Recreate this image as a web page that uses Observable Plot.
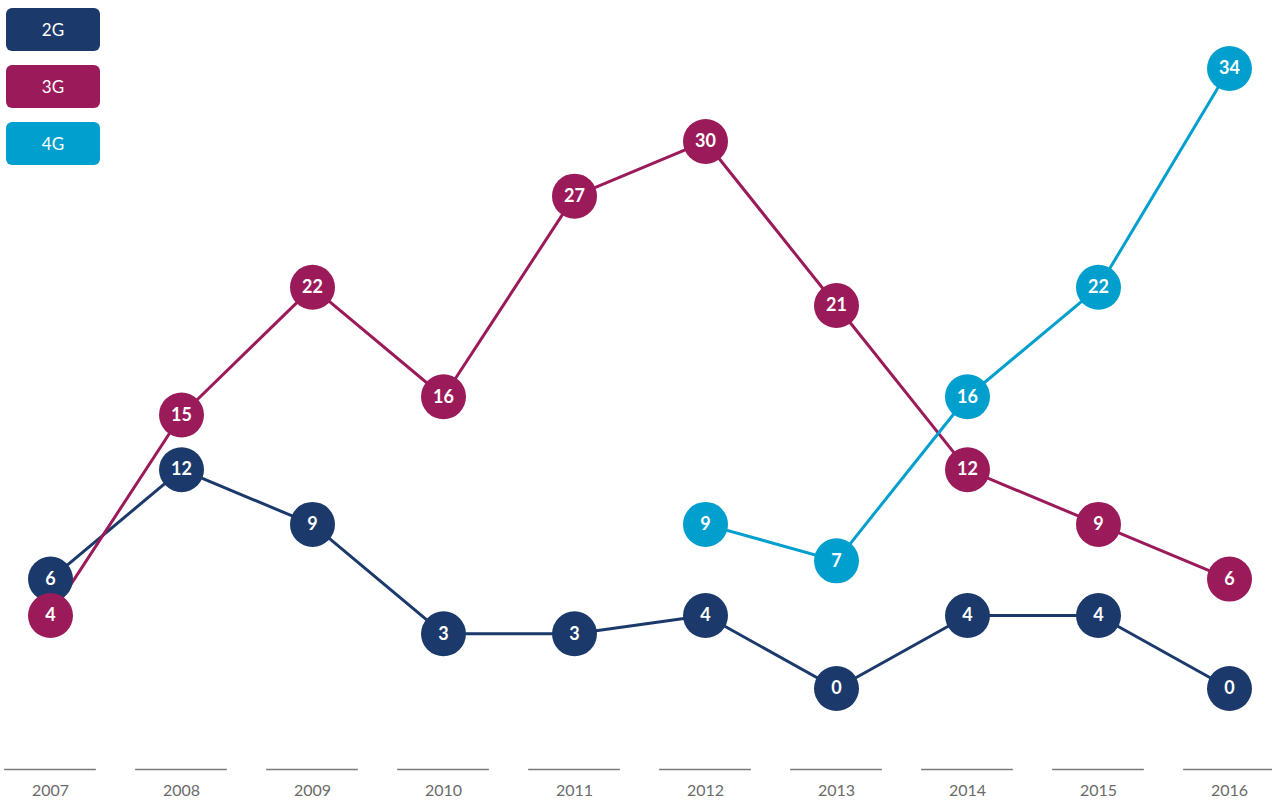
<!DOCTYPE html>
<html>
<head>
<meta charset="utf-8">
<script src="https://cdn.jsdelivr.net/npm/d3@7"></script>
<script src="https://cdn.jsdelivr.net/npm/@observablehq/plot@0.6"></script>
<style>
  html, body { margin: 0; padding: 0; background: #fff; }
  #wrap { position: relative; width: 1272px; height: 802px; }
  #legend { position: absolute; left: 6px; top: 8px; }
  .key { width: 94px; height: 43px; border-radius: 6px; color: #fff;
         font: 400 17px "Lato", "Open Sans", sans-serif; display: flex;
         align-items: center; justify-content: center; margin-bottom: 14px; }
</style>
</head>
<body>
<div id="wrap">
  <div id="chart"></div>
  <div id="legend"></div>
</div>
<script>
const years = [2007, 2008, 2009, 2010, 2011, 2012, 2013, 2014, 2015, 2016];
const series = ["2G", "3G", "4G"];
const colors = ["#1b3a6b", "#9b1b5a", "#009fcd"];
const values2G = [6, 12, 9, 3, 3, 4, 0, 4, 4, 0];
const values3G = [4, 15, 22, 16, 27, 30, 21, 12, 9, 6];
const values4G = [null, null, null, null, null, 9, 7, 16, 22, 34];

const rows = [];
[values2G, values3G, values4G].forEach((vals, i) => {
  vals.forEach((v, j) => { if (v != null) rows.push({series: series[i], year: years[j], value: v}); });
});

const colorScale = {domain: series, range: colors};

const chart = Plot.plot({
  width: 1272,
  height: 802,
  marginLeft: 50,
  marginRight: 43,
  marginTop: 68,
  marginBottom: 114,
  x: {domain: [2007, 2016], axis: null},
  y: {domain: [0, 34], axis: null},
  color: colorScale,
  style: {background: "#fff"},
  marks: [
    Plot.ruleY(years, {x1: d => d - 0.35, x2: d => d + 0.35, y: () => 0, dy: 81, stroke: "#7a7a7a", strokeWidth: 1.5}),
    Plot.text(years, {x: d => d, y: () => 0, dy: 102, text: d => String(d), fill: "#6b6b6b", fontSize: 16, fontFamily: "Lato, 'Open Sans', sans-serif"}),
    Plot.line(rows, {x: "year", y: "value", z: "series", stroke: "series", strokeWidth: 3}),
    Plot.dot(rows, {x: "year", y: "value", fill: "series", r: 22.5}),
    Plot.text(rows, {x: "year", y: "value", text: d => String(d.value), fill: "#fff", fontSize: 18, fontWeight: 700, fontFamily: "Lato, 'Open Sans', sans-serif"})
  ]
});
document.getElementById("chart").appendChild(chart);

const legend = document.getElementById("legend");
series.forEach((s, i) => {
  const d = document.createElement("div");
  d.className = "key";
  d.style.background = colors[i];
  d.textContent = s;
  legend.appendChild(d);
});
</script>
</body>
</html>
